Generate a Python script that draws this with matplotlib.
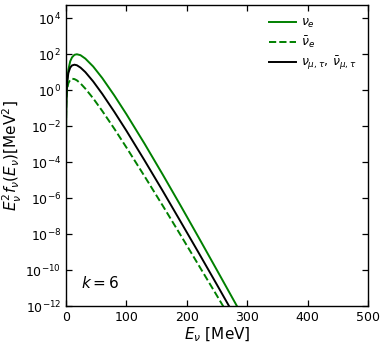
# spectra plot, log y
import numpy as np
import matplotlib
matplotlib.use("Agg")
import matplotlib.pyplot as plt

# energies [MeV] and log10 of E^2 f(E)
energy = [0.01, 0.1, 0.3, 0.6, 1, 2, 4, 7, 10, 14, 18, 24, 32, 45, 60, 80,
          100, 130, 160, 190, 220, 250, 280, 310]
log_nue = [-5.59, -2.90, -1.63, -0.84, -0.27, 0.47, 1.15, 1.61, 1.83, 1.97,
           2.00, 1.95, 1.76, 1.32, 0.68, -0.29, -1.33, -2.97, -4.68, -6.43,
           -8.21, -10.01, -11.82, -13.65]
log_nuebar = [-3.26, -1.77, -1.07, -0.63, -0.33, 0.07, 0.40, 0.58, 0.64, 0.62,
              0.55, 0.38, 0.09, -0.45, -1.15, -2.14, -3.18, -4.78, -6.41,
              -8.07, -9.75, -11.43, -13.13, -14.84]
log_nux = [-3.95, -1.97, -1.04, -0.46, -0.04, 0.49, 0.97, 1.26, 1.38, 1.42,
           1.39, 1.26, 1.01, 0.49, -0.20, -1.20, -2.25, -3.90, -5.59, -7.32,
           -9.06, -10.82, -12.60, -14.38]
labels = [r"$\nu_e$", r"$\bar{\nu}_e$",
          r"$\nu_{\mu,\tau},\, \bar{\nu}_{\mu,\tau}$"]

plt.rcParams["xtick.direction"] = "in"
plt.rcParams["ytick.direction"] = "in"
plt.rcParams["xtick.top"] = True
plt.rcParams["ytick.right"] = True
plt.rcParams["axes.linewidth"] = 1.0

fig = plt.figure(figsize=(3.85, 3.45), dpi=100)
ax = fig.add_axes([0.1714, 0.113, 0.7844, 0.8725])

ax.plot(energy, np.power(10.0, log_nue), color="g", lw=1.4, label=labels[0])
ax.plot(energy, np.power(10.0, log_nuebar), color="g", lw=1.4, ls="--",
        label=labels[1])
ax.plot(energy, np.power(10.0, log_nux), color="k", lw=1.4, label=labels[2])

ax.set_yscale("log")
ax.set_xlim(0, 500)
ax.set_ylim(1e-12, 10 ** 4.74)
ax.set_yticks([10.0 ** p for p in range(-12, 5, 2)])
ax.minorticks_off()
ax.tick_params(labelsize=9, length=4.5, width=0.9)
ax.set_xticks([0, 100, 200, 300, 400, 500])

ax.set_xlabel(r"$E_\nu$ [MeV]", fontsize=11, labelpad=1)
ax.set_ylabel(r"$E_\nu^2 f_\nu(E_\nu) [\mathrm{MeV}^2]$", fontsize=11,
              labelpad=1)

ax.text(0.05, 0.076, r"$k = 6$", transform=ax.transAxes, fontsize=11,
        va="center")

ax.legend(loc="upper right", frameon=False, fontsize=9, handlelength=2.1,
          handletextpad=0.45, labelspacing=0.35, borderaxespad=0.5)

fig.savefig("out.png", dpi=100)
